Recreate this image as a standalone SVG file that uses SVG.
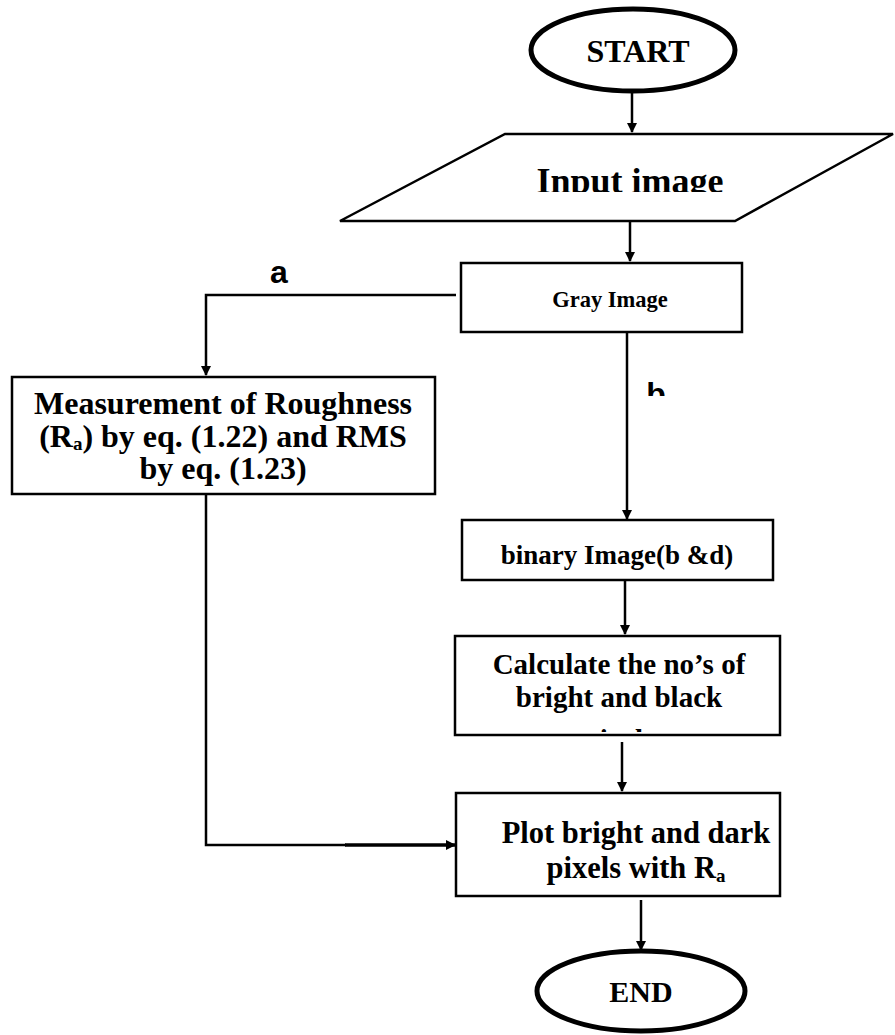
<svg xmlns="http://www.w3.org/2000/svg" width="895" height="1035" viewBox="0 0 895 1035">
<style>
.box{fill:#fff;stroke:#000;stroke-width:2.5}
.term{fill:#fff;stroke:#000;stroke-width:5}
.t{font-family:"Liberation Serif","Times New Roman",serif;font-weight:bold;fill:#000;text-anchor:middle}
.lbl{font-family:"Liberation Sans",Arial,sans-serif;font-weight:bold;fill:#000;text-anchor:middle;font-size:32px}
.c{fill:none;stroke:#000;stroke-width:2.5}
</style>
<defs>
<marker id="ah" markerWidth="10" markerHeight="10" refX="9" refY="5" orient="auto" markerUnits="userSpaceOnUse" viewBox="0 0 10 10">
<path d="M0,0 L10,5 L0,10 z" fill="#000"/>
</marker>
<clipPath id="clipIn"><rect x="300" y="130" width="595" height="62"/></clipPath>
<clipPath id="clipA"><rect x="250" y="264" width="60" height="30"/></clipPath>
<clipPath id="clipB"><rect x="630" y="380" width="60" height="16"/></clipPath>
<clipPath id="clipCalc"><rect x="455" y="636" width="325" height="96"/></clipPath>
</defs>
<g id="connectors">
<line class="c" x1="632" y1="92" x2="632" y2="132" marker-end="url(#ah)"/>
<line class="c" x1="630" y1="221" x2="630" y2="261" marker-end="url(#ah)"/>
<polyline class="c" points="456,295 206,295 206,375" marker-end="url(#ah)"/>
<line class="c" x1="627" y1="333" x2="627" y2="519" marker-end="url(#ah)"/>
<line class="c" x1="625" y1="581" x2="625" y2="634" marker-end="url(#ah)"/>
<polyline class="c" points="206,494 206,845 346,845"/>
<line x1="345" y1="845" x2="455" y2="845" stroke="#000" stroke-width="3.5" marker-end="url(#ah)"/>
<line class="c" x1="622" y1="742" x2="622" y2="791" marker-end="url(#ah)"/>
<line class="c" x1="641" y1="900" x2="641" y2="950" marker-end="url(#ah)"/>
<g clip-path="url(#clipA)"><text class="lbl" x="279" y="283">a</text></g>
<g clip-path="url(#clipB)"><text class="lbl" x="656" y="405">b</text></g>
</g>
<g id="start">
<ellipse class="term" cx="633" cy="50" rx="102" ry="41"/>
<text class="t" x="638" y="62" font-size="32">START</text>
</g>
<g id="input">
<polygon class="box" points="505,134 893,134 735,221 340,221"/>
<g clip-path="url(#clipIn)"><text class="t" x="630" y="193" font-size="36">Input image</text></g>
</g>
<g id="gray">
<rect class="box" x="461" y="263" width="281" height="69"/>
<text class="t" x="610" y="307" font-size="22.5">Gray Image</text>
</g>
<g id="measure">
<rect class="box" x="12" y="377" width="423" height="117"/>
<text class="t" font-size="32"><tspan x="223" y="414">Measurement of Roughness</tspan><tspan x="223" y="447">(R<tspan font-size="19" dy="3">a</tspan><tspan dy="-3">) by eq. (1.22) and RMS</tspan></tspan><tspan x="223" y="479">by eq. (1.23)</tspan></text>
</g>
<g id="binary">
<rect class="box" x="462" y="520" width="311" height="60"/>
<text class="t" x="617" y="564" font-size="27">binary Image(b &amp;d)</text>
</g>
<g id="calc">
<rect class="box" x="455" y="636" width="325" height="99"/>
<g clip-path="url(#clipCalc)"><text class="t" font-size="29"><tspan x="619" y="674">Calculate the no’s of</tspan><tspan x="619" y="707">bright and black</tspan><tspan x="619" y="750">pixels</tspan></text></g>
</g>
<g id="plot">
<rect class="box" x="456" y="793" width="324" height="103"/>
<text class="t" font-size="30.5"><tspan x="636" y="843">Plot bright and dark</tspan><tspan x="636" y="878">pixels with R<tspan font-size="19" dy="4">a</tspan></tspan></text>
</g>
<g id="end">
<ellipse class="term" cx="641" cy="991" rx="104" ry="40"/>
<text class="t" x="641" y="1002" font-size="30">END</text>
</g>
</svg>
